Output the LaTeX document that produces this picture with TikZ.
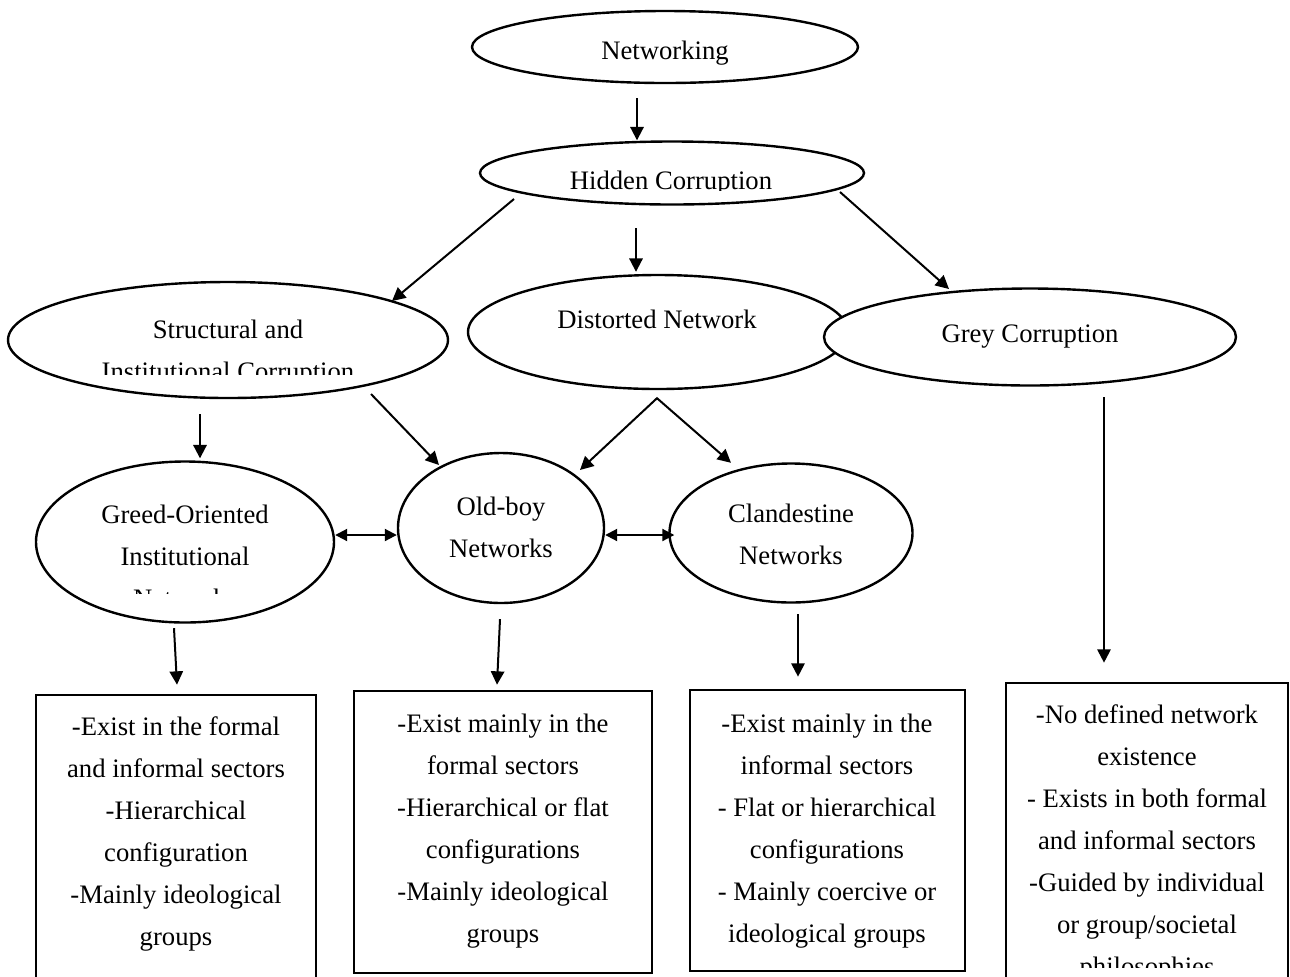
\documentclass[tikz,border=0pt]{standalone}
\usepackage{fontspec}
\setmainfont{Liberation Serif}
\usetikzlibrary{shapes.geometric,arrows.meta,calc}

\newcommand{\stacked}[1]{\begin{tabular}[t]{@{}c@{}}#1\end{tabular}}

\tikzset{
  oval/.style 2 args={draw, ellipse, line width=1.8pt, fill=white, inner sep=0pt,
    minimum width=#1*0.75pt, minimum height=#2*0.75pt},
  card/.style 2 args={draw, rectangle, line width=2pt, inner sep=0pt,
    minimum width=#1*0.75pt, minimum height=#2*0.75pt},
  txt/.style={anchor=base, inner sep=0pt, font=\fontsize{20}{31.5}\selectfont},
  arr/.style={-{Triangle[length=10pt,width=10pt]}, line width=1.5pt},
  darr/.style={{Triangle[length=9pt,width=9pt]}-{Triangle[length=9pt,width=9pt]}, line width=1.5pt},
  varr/.style={{Triangle[length=10pt,width=10pt]}-{Triangle[length=10pt,width=10pt]}, line width=1.5pt},
}

\begin{document}
\begin{tikzpicture}[x=0.75pt,y=-0.75pt]
\clip (0,0) rectangle (1290,976);

% TOP
\node[oval={386}{72}] (net) at (665,47) {};
\node[txt] (net-t) at (665,59) {Networking};

\node[oval={384}{63}] (hid) at (672,173) {};
\begin{scope}
  \clip (480,140) rectangle (864,190);
  \node[txt] (hid-t) at (671,189) {Hidden Corruption};
\end{scope}

% LEVEL 1
\node[oval={440}{116}] (str) at (228,340) {};
\begin{scope}
  \clip (8,282) rectangle (448,374);
  \node[txt] (str-t) at (228,338) {\stacked{Structural and\\Institutional Corruption}};
\end{scope}

\node[oval={380}{114}] (dis) at (658,332) {};
\node[txt] (dis-t) at (657,328) {Distorted Network};

\node[oval={412}{97}] (grey) at (1030,337) {};
\node[txt] (grey-t) at (1030,342) {Grey Corruption};

% LEVEL 2
\node[oval={298}{161}] (greed) at (185,542) {};
\begin{scope}
  \clip (36,462) rectangle (334,593);
  \node[txt] (greed-t) at (185,523) {\stacked{Greed-Oriented\\Institutional\\Networks}};
\end{scope}

\node[oval={206}{150}] (old) at (501,528) {};
\node[txt] (old-t) at (501,515) {\stacked{Old-boy\\Networks}};

\node[oval={243}{139}] (clan) at (791,533) {};
\node[txt] (clan-t) at (791,522) {\stacked{Clandestine\\Networks}};

% LEVEL 3
\node[card={280}{295}] (box1) at (176,842.5) {};
\node[txt] (box1-t) at (176,735) {\stacked{-Exist in the formal\\and informal sectors\\-Hierarchical\\configuration\\-Mainly ideological\\groups}};

\node[card={298}{282}] (box2) at (503,832) {};
\node[txt] (box2-t) at (503,732) {\stacked{-Exist mainly in the\\formal sectors\\-Hierarchical or flat\\configurations\\-Mainly ideological\\groups}};

\node[card={275}{281}] (box3) at (827.5,830.5) {};
\node[txt] (box3-t) at (827,732) {\stacked{-Exist mainly in the\\informal sectors\\- Flat or hierarchical\\configurations\\- Mainly coercive or\\ideological groups}};

\node[card={282}{312}] (box4) at (1147,839) {};
\begin{scope}
  \clip (1006,683) rectangle (1288,967);
  \node[txt] (box4-t) at (1147,723) {\stacked{-No defined network\\existence\\- Exists in both formal\\and informal sectors\\-Guided by individual\\or group/societal\\philosophies}};
\end{scope}

% ARROWS
\draw[arr] ($(net.south)+(-28,14)$) -- ($(hid.north)+(-35,0)$);
\draw[arr] ($(hid.center)+(-158,26)$) -- ($(str.center)+(164,-39)$);
\draw[arr] ($(hid.south)+(-36,22.5)$) -- ($(dis.north)+(-22,-2)$);
\draw[arr] ($(hid.center)+(168,19)$) -- ($(grey.center)+(-81,-48)$);

\draw[arr] ($(str.south)+(-28,15)$) -- ($(greed.north)+(15,-2)$);
\draw[arr] ($(str.center)+(143,54)$) -- ($(old.center)+(-62,-63)$);
\draw[varr] ($(old.center)+(79,-58)$) -- ($(dis.south)+(-1,8)$) -- ($(clan.north)+(-60,0.5)$);
\draw[arr] ($(grey.south)+(74,10.5)$) -- ($(box4.north)+(-43,-19)$);

\draw[darr] ($(greed.east)+(0,-7)$) -- ($(old.west)+(0,7)$);
\draw[darr] ($(old.east)+(0,7)$) -- ($(clan.west)+(6,2)$);

\draw[arr] ($(greed.south)+(-11,4.5)$) -- ($(box1.north)+(1,-9)$);
\draw[arr] ($(old.south)+(-1,15)$) -- ($(box2.north)+(-6,-5)$);
\draw[arr] ($(clan.south)+(7,10.5)$) -- ($(box3.north)+(-29.5,-12)$);
\end{tikzpicture}
\end{document}
